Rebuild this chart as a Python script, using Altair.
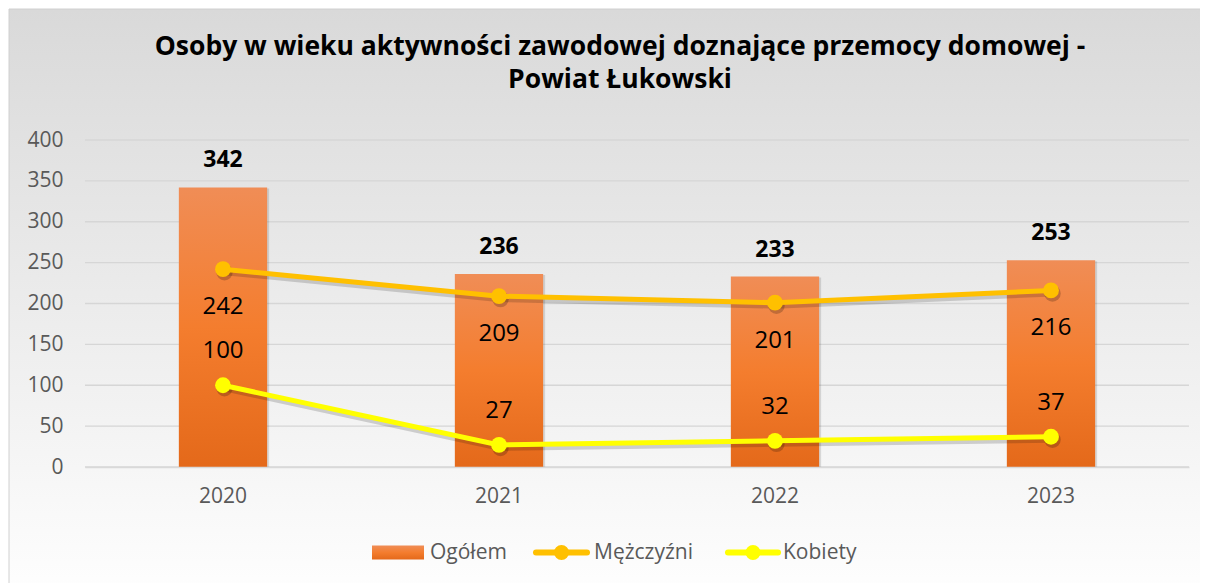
import altair as alt
import pandas as pd

# ---------------- data ----------------
years = ["2020", "2021", "2022", "2023"]
ogolem = [342, 236, 233, 253]
mezczyzni = [242, 209, 201, 216]
kobiety = [100, 27, 32, 37]
series_names = ["Ogółem", "Mężczyźni", "Kobiety"]
series_colors = ["#EF7B30", "#FFC000", "#FFFF00"]
y_ticks = [0, 50, 100, 150, 200, 250, 300, 350, 400]
title_lines = [
    "Osoby w wieku aktywności zawodowej doznające przemocy domowej -",
    "Powiat Łukowski",
]

# ---------------- layout ----------------
W, H = 1104, 327
FONT = "Open Sans"
GRAY = "#595959"
LEG_Y = 412.5
AX_FS = 21

bar_df = pd.DataFrame({"year": years, "value": ogolem})
men_df = pd.DataFrame({"year": years, "value": mezczyzni, "series": series_names[1]})
women_df = pd.DataFrame({"year": years, "value": kobiety, "series": series_names[2]})
line_df = pd.concat([men_df, women_df], ignore_index=True)
grid_df = pd.DataFrame({"value": y_ticks})
one = alt.Data(values=[{}])

x_enc = alt.X(
    "year:N",
    scale=alt.Scale(paddingInner=0.68, paddingOuter=0.34),
    axis=alt.Axis(
        title=None, labelAngle=0, labelFont=FONT, labelFontSize=AX_FS,
        labelColor=GRAY, labelPadding=18, ticks=False, grid=False,
        domainColor="#D9D9D9", domainWidth=1.5, zindex=1,
    ),
)
y_scale = alt.Scale(domain=[0, 400], nice=False)
y_enc = alt.Y(
    "value:Q",
    scale=y_scale,
    axis=alt.Axis(
        title=None, values=y_ticks, labelFont=FONT, labelFontSize=AX_FS,
        labelColor=GRAY, labelPadding=22, ticks=False, domain=False,
        grid=False, zindex=1,
    ),
)

bg_gradient = alt.Gradient(
    gradient="linear", x1=0, y1=0, x2=0, y2=1,
    stops=[alt.GradientStop(color="#D9D9D9", offset=0),
           alt.GradientStop(color="#FFFFFF", offset=1)],
)
bar_gradient = alt.Gradient(
    gradient="linear", x1=0, y1=0, x2=0, y2=1,
    stops=[alt.GradientStop(color="#F08D56", offset=0),
           alt.GradientStop(color="#F47D2E", offset=0.5),
           alt.GradientStop(color="#E4691A", offset=1)],
)

background = alt.Chart(one).mark_rect(
    fill=bg_gradient, stroke="#D0D0D0", strokeWidth=1
).encode(x=alt.value(-76), x2=alt.value(1119), y=alt.value(-131), y2=alt.value(470))

grid = alt.Chart(grid_df).mark_rule(color="#D6D6D6", strokeWidth=1.3).encode(
    y=y_enc, x=alt.value(0), x2=alt.value(W)
)

bar_shadow = alt.Chart(bar_df).mark_bar(
    color="#000000", opacity=0.12, xOffset=2, yOffset=1
).encode(x=x_enc, y=y_enc)

bars = alt.Chart(bar_df).mark_bar(fill=bar_gradient).encode(x=x_enc, y=y_enc)

color_enc = alt.Color(
    "series:N",
    scale=alt.Scale(domain=series_names, range=series_colors),
    legend=None,
)

line_shadow = alt.Chart(line_df).mark_line(
    color="#000000", opacity=0.16, strokeWidth=6, xOffset=1.5, yOffset=3
).encode(x=x_enc, y=y_enc, detail="series:N")

point_shadow = alt.Chart(line_df).mark_circle(
    color="#000000", opacity=0.2, size=270, xOffset=1.5, yOffset=3
).encode(x=x_enc, y=y_enc)

lines = alt.Chart(line_df).mark_line(strokeWidth=5).encode(
    x=x_enc, y=y_enc, color=color_enc
)
points = alt.Chart(line_df).mark_circle(size=250, opacity=1).encode(
    x=x_enc, y=y_enc, color=color_enc
)

bar_labels = alt.Chart(bar_df).mark_text(
    font=FONT, fontSize=23, fontWeight="bold", color="black", dy=-27, baseline="middle"
).encode(x=x_enc, y=y_enc, text="value:Q")

men_labels = alt.Chart(men_df).mark_text(
    font=FONT, fontSize=24, color="black", dy=38, baseline="middle"
).encode(x=x_enc, y=y_enc, text="value:Q")

women_labels = alt.Chart(women_df).mark_text(
    font=FONT, fontSize=24, color="black", dy=-34, baseline="middle"
).encode(x=x_enc, y=y_enc, text="value:Q")

title = alt.Chart(one).mark_text(
    text=title_lines, font=FONT, fontSize=26.5, fontWeight="bold", color="black",
    lineHeight=33, align="center", baseline="middle",
).encode(x=alt.value(535), y=alt.value(-93))

# ---------------- legend (drawn by hand) ----------------
leg_text = dict(font=FONT, fontSize=AX_FS, color=GRAY, align="left", baseline="middle")
leg_items = []
# Ogółem: gradient swatch
leg_items.append(alt.Chart(one).mark_rect(fill=bar_gradient).encode(
    x=alt.value(287), x2=alt.value(339), y=alt.value(LEG_Y - 7), y2=alt.value(LEG_Y + 7)))
leg_items.append(alt.Chart(one).mark_text(text=series_names[0], **leg_text).encode(
    x=alt.value(345), y=alt.value(LEG_Y)))
# Line series: line + marker
for name, col, x0, x1, xl in [
    (series_names[1], series_colors[1], 448, 505, 509),
    (series_names[2], series_colors[2], 640, 696, 698),
]:
    leg_items.append(alt.Chart(one).mark_rule(color=col, strokeWidth=6, strokeCap="round").encode(
        x=alt.value(x0 + 3), x2=alt.value(x1 - 3), y=alt.value(LEG_Y)))
    leg_items.append(alt.Chart(one).mark_circle(color=col, size=230, opacity=1).encode(
        x=alt.value((x0 + x1) / 2), y=alt.value(LEG_Y)))
    leg_items.append(alt.Chart(one).mark_text(text=name, **leg_text).encode(
        x=alt.value(xl), y=alt.value(LEG_Y)))

chart = alt.layer(
    background, grid, bar_shadow, bars, line_shadow, point_shadow, lines, points,
    bar_labels, men_labels, women_labels, title, *leg_items,
).properties(
    width=W, height=H,
    autosize=alt.AutoSizeParams(type="none"),
    padding={"left": 77, "top": 132, "right": 11, "bottom": 116},
).configure_view(stroke=None).configure(background="white")

chart.save("out.html", embed_options={"renderer": "svg", "actions": False})
